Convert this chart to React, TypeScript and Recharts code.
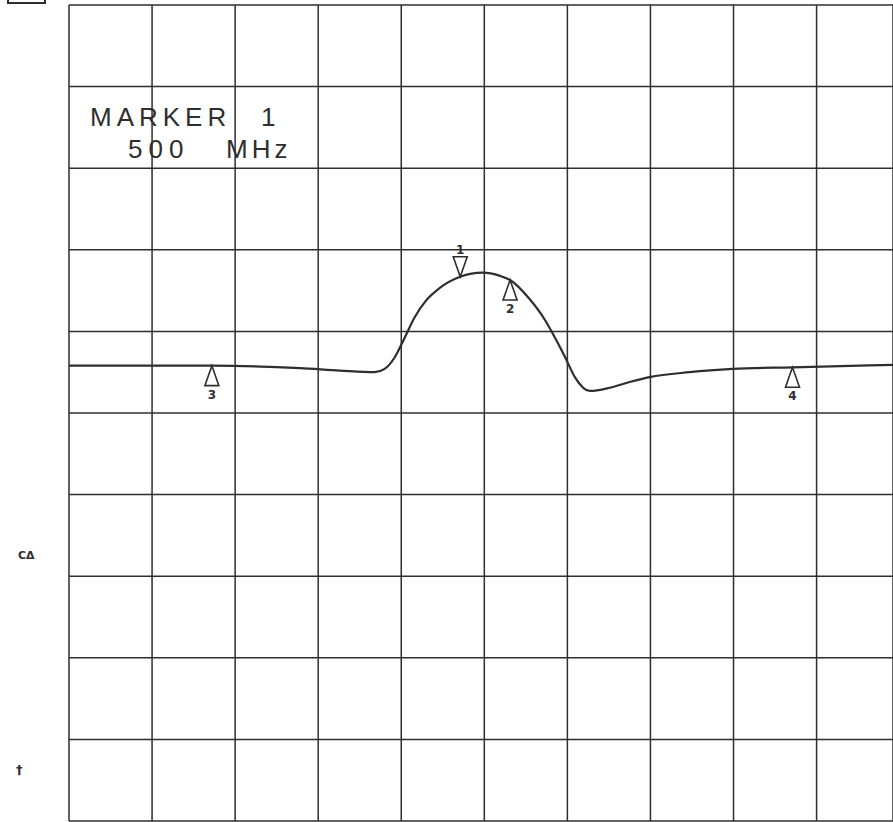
import { ComposedChart, Line, Scatter, XAxis, YAxis, CartesianGrid } from "recharts";

// trace, in graticule divisions (x from left edge, y from bottom)
const traceX = [0, 0.98, 1.72, 2.78, 3.26, 3.68, 3.8, 3.92, 4.04, 4.16, 4.3, 4.46, 4.71, 4.98, 5.19, 5.31, 5.55, 5.73, 5.82, 5.97, 6.09, 6.27, 6.51, 6.75, 6.99, 7.47, 7.99, 8.71, 9.92];
const traceY = [5.58, 5.58, 5.58, 5.55, 5.52, 5.5, 5.54, 5.68, 5.92, 6.17, 6.38, 6.53, 6.67, 6.72, 6.68, 6.63, 6.39, 6.14, 5.98, 5.69, 5.44, 5.27, 5.31, 5.38, 5.44, 5.5, 5.54, 5.56, 5.59];

const markerNames = ["1", "2", "3", "4"];
const markerX = [4.71, 5.31, 1.72, 8.71];
const markerY = [6.67, 6.63, 5.58, 5.56];
const markerDown = [true, false, false, false];

const xTicks = [0, 1, 2, 3, 4, 5, 6, 7, 8, 9];
const yTicks = [0, 1, 2, 3, 4, 5, 6, 7, 8, 9, 10];

const ink = "#2e2e2e";

const trace = traceX.map((x, i) => ({ x, y: traceY[i] }));
const markers = markerX.map((x, i) => ({ x, y: markerY[i], name: markerNames[i], down: markerDown[i] }));

function MarkerShape(props: any) {
  const { cx, cy, payload } = props;
  if (cx == null || cy == null) return null;
  const w = 7;
  const h = 20;
  if (payload.down) {
    return (
      <g>
        <path d={`M${cx},${cy} L${cx - w},${cy - h} L${cx + w},${cy - h} Z`} fill="#fff" stroke={ink} strokeWidth={1.6} />
        <text x={cx} y={cy - h - 3} textAnchor="middle" fontFamily="DejaVu Sans" fontWeight="bold" fontSize={12} fill={ink}>
          {payload.name}
        </text>
      </g>
    );
  }
  return (
    <g>
      <path d={`M${cx},${cy} L${cx - w},${cy + h} L${cx + w},${cy + h} Z`} fill="#fff" stroke={ink} strokeWidth={1.6} />
      <text x={cx} y={cy + h + 13} textAnchor="middle" fontFamily="DejaVu Sans" fontWeight="bold" fontSize={12} fill={ink}>
        {payload.name}
      </text>
    </g>
  );
}

export default function App() {
  return (
    <div style={{ position: "absolute", left: 0, top: 0, width: 893, height: 822, background: "#fff" }}>
      <ComposedChart width={893} height={822} data={trace} margin={{ top: 5, right: 0, bottom: 1, left: 69 }}>
        <CartesianGrid stroke={ink} strokeWidth={1.5} verticalFill={[]} horizontalFill={[]} />
        <XAxis type="number" dataKey="x" domain={[0, 9.92]} ticks={xTicks} hide />
        <YAxis type="number" domain={[0, 10]} ticks={yTicks} hide />
        <Line type="monotone" dataKey="y" stroke={ink} strokeWidth={2.2} dot={false} isAnimationActive={false} />
        <Scatter data={markers} dataKey="y" shape={MarkerShape} isAnimationActive={false} />
      </ComposedChart>
      <svg width={893} height={822} style={{ position: "absolute", left: 0, top: 0, pointerEvents: "none" }}>
        <rect x={8} y={-10} width={37} height={13} fill="none" stroke={ink} strokeWidth={2} />
        <text x={90} y={126} fontFamily="Liberation Sans" fontSize={26} letterSpacing={5} fill={ink}>
          MARKER
        </text>
        <text x={261} y={126} fontFamily="Liberation Sans" fontSize={26} fill={ink}>
          1
        </text>
        <text x={128} y={158} fontFamily="Liberation Sans" fontSize={26} letterSpacing={6} fill={ink}>
          500
        </text>
        <text x={226} y={158} fontFamily="Liberation Sans" fontSize={26} letterSpacing={4} fill={ink}>
          MHz
        </text>
        <text x={18} y={559} fontFamily="DejaVu Sans" fontWeight="bold" fontSize={11} fill={ink}>
          CΔ
        </text>
        <text x={16} y={774} fontFamily="DejaVu Sans" fontWeight="bold" fontSize={13} fill={ink}>
          †
        </text>
      </svg>
    </div>
  );
}
